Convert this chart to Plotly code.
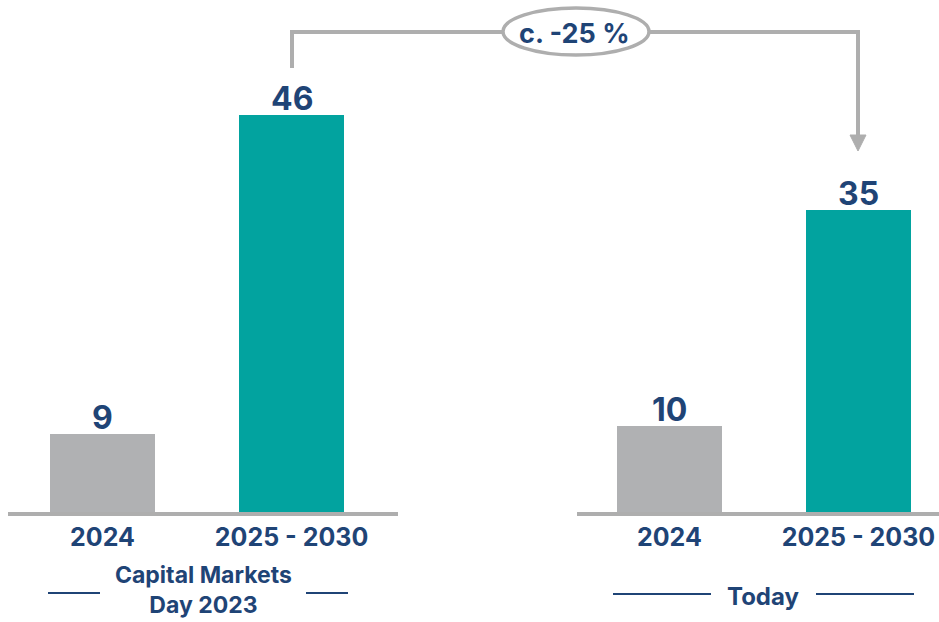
import plotly.graph_objects as go

W, H = 939, 622

categories = ["2024", "2025 - 2030"]
cmd_values = [9, 46]
today_values = [10, 35]
bar_colors = ["#B0B1B3", "#02A39F"]
group_labels = ["Capital Markets<br>Day 2023", "Today"]
change_label = "c. -25 %"

NAVY = "#1F4476"
GRAY_LINE = "#AEAEAE"
FONT = "Inter"

fig = go.Figure()
annotations = []
for vals, xa, ya in [(cmd_values, "x", "y"), (today_values, "x2", "y")]:
    fig.add_trace(go.Bar(
        x=categories, y=vals, xaxis=xa, yaxis=ya,
        marker=dict(color=bar_colors, line=dict(width=0)),
        width=0.556,
        showlegend=False, hoverinfo="skip",
    ))
    for i, v in enumerate(vals):
        # category axes take the category index for annotation positions
        annotations.append(dict(
            text=str(v), xref=xa, yref=ya, x=i, y=v,
            showarrow=False, xanchor="center", yanchor="bottom", yshift=-5,
            font=dict(family=FONT, size=32, color=NAVY, weight=700),
        ))

BASE = 512  # pixel row of baseline
ymax = 59.33

def px(x):
    return x / W

def py(y):
    return (BASE - y) / BASE

axis_common = dict(
    type="category", showgrid=False, zeroline=False,
    showline=True, linecolor=GRAY_LINE, linewidth=4,
    ticks="", ticklen=0,
    tickfont=dict(family=FONT, size=25, color=NAVY, weight=700),
    fixedrange=True,
)

fig.update_layout(
    width=W, height=H,
    margin=dict(l=0, r=0, t=0, b=H - BASE),
    paper_bgcolor="white", plot_bgcolor="white",
    xaxis=dict(domain=[8 / W, 398 / W], range=[-0.5, 1.563], anchor="y", **axis_common),
    xaxis2=dict(domain=[577 / W, 1.0], range=[-0.489, 1.426], anchor="y", **axis_common),
    yaxis=dict(range=[0, ymax], visible=False, fixedrange=True, domain=[0, 1]),
    bargap=0,
)

shapes = []
# connector path
shapes.append(dict(
    type="path", xref="paper", yref="paper",
    path=f"M {px(292)} {py(68)} L {px(292)} {py(32)} L {px(858)} {py(32)} L {px(858)} {py(138)}",
    line=dict(color=GRAY_LINE, width=4), fillcolor="rgba(0,0,0,0)",
))
# arrow head
shapes.append(dict(
    type="path", xref="paper", yref="paper",
    path=f"M {px(850)} {py(135)} L {px(866)} {py(135)} L {px(858)} {py(151)} Z",
    line=dict(color=GRAY_LINE, width=1), fillcolor=GRAY_LINE,
))
# ellipse
shapes.append(dict(
    type="circle", xref="paper", yref="paper",
    x0=px(503), x1=px(649), y0=py(55), y1=py(8),
    line=dict(color=GRAY_LINE, width=3.5), fillcolor="white",
))
# group underline segments
for x0, x1, yy in [(48, 100, 593), (306, 348, 593), (613, 711, 594), (816, 914, 594)]:
    shapes.append(dict(
        type="line", xref="paper", yref="paper",
        x0=px(x0), x1=px(x1), y0=py(yy), y1=py(yy),
        line=dict(color=NAVY, width=2),
    ))
fig.update_layout(shapes=shapes)

annotations.append(dict(
    text=change_label, xref="paper", yref="paper", x=px(574), y=py(33),
    showarrow=False, xanchor="center", yanchor="middle",
    font=dict(family=FONT, size=27, color=NAVY, weight=700)))
annotations.append(dict(
    text=group_labels[0], xref="paper", yref="paper", x=px(203), y=py(590),
    showarrow=False, xanchor="center", yanchor="middle",
    font=dict(family=FONT, size=23, color=NAVY, weight=700)))
annotations.append(dict(
    text=group_labels[1], xref="paper", yref="paper", x=px(763), y=py(596),
    showarrow=False, xanchor="center", yanchor="middle",
    font=dict(family=FONT, size=24, color=NAVY, weight=700)))
fig.update_layout(annotations=annotations)

fig.write_html("out.html", config={"displayModeBar": False})
